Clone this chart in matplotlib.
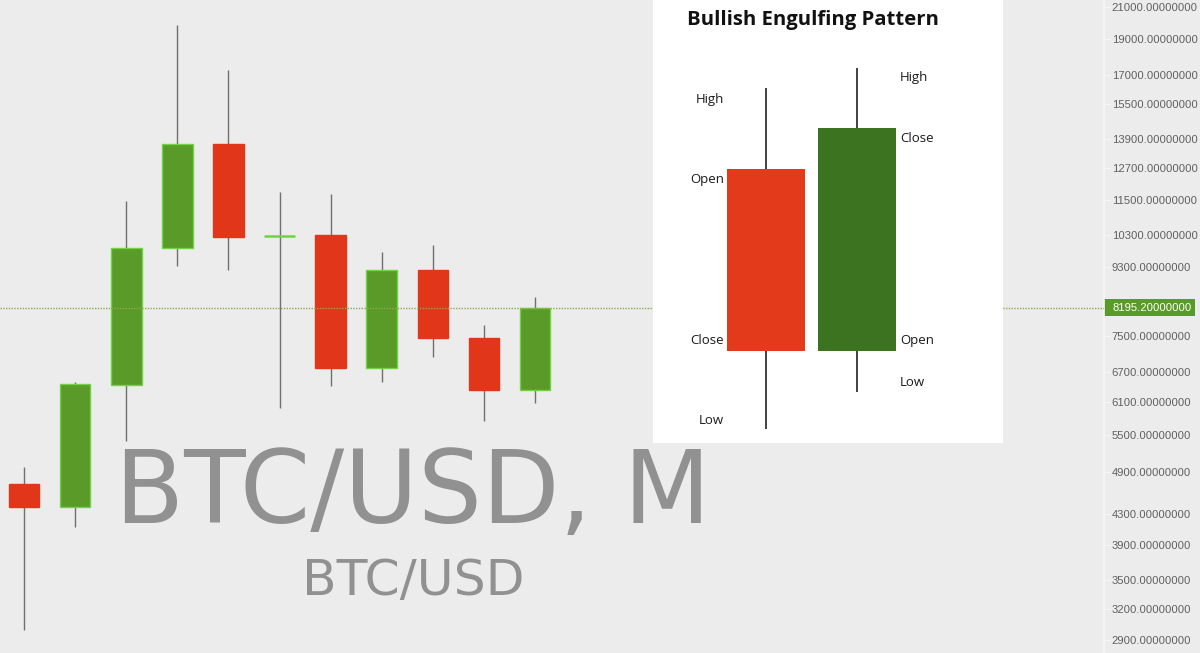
import matplotlib
matplotlib.use('Agg')
import matplotlib.pyplot as plt

# monthly BTC/USD candles
highs = [4990, 6505, 11450, 19850, 17220, 11780, 11705, 9765, 9980, 7775, 8485]
opens = [4730, 4400, 6445, 9890, 13700, 10270, 10300, 6800, 9230, 7465, 6345]
closes = [4400, 6455, 9890, 13700, 10235, 10270, 6800, 9230, 7465, 6345, 8195.2]
lows = [2990, 4135, 5410, 9350, 9230, 6000, 6425, 6505, 7035, 5760, 6090]

last_price = 8195.2
price_ticks = [21000, 19000, 17000, 15500, 13900, 12700, 11500, 10300, 9300,
               7500, 6700, 6100, 5500, 4900, 4300, 3900, 3500, 3200, 2900]

# the pasted "engulfing" sketch, heights in arbitrary units
sketch_names = ['bear', 'bull']
sketch_high = [355, 375]
sketch_open = [274, 92]
sketch_close = [92, 315]
sketch_low = [14, 51]
sketch_colors = ['#e23a1a', '#3b7320']

BG = '#ececec'
UP = '#5a9a28'
UP_EDGE = '#70d442'
DOWN = '#e2361a'
WICK = '#707070'
W, H = 1200, 653

plt.rcParams['font.family'] = ['Liberation Sans', 'DejaVu Sans']

fig = plt.figure(figsize=(12, 6.53), dpi=100, facecolor=BG)
ax = fig.add_axes([0, 0, 1104 / W, 1], facecolor=BG)
ax.set_yscale('log')
ax.set_ylim(2786, 21464)
ax.set_xlim(-0.47, 21.13)

for i in range(len(opens)):
    ax.vlines(i, lows[i], highs[i], color=WICK, lw=1, zorder=2)
    bottom = min(opens[i], closes[i])
    top = max(opens[i], closes[i])
    if closes[i] == opens[i]:
        continue
    if closes[i] > opens[i]:
        ax.bar(i, top - bottom, bottom=bottom, width=0.6, color=UP,
               edgecolor=UP_EDGE, lw=1, zorder=3)
    else:
        ax.bar(i, top - bottom, bottom=bottom, width=0.6, color=DOWN,
               edgecolor=DOWN, lw=1, zorder=3)

# doji candle has no body, only a bright line
for i in range(len(opens)):
    if abs(opens[i] - closes[i]) < 50:
        ax.hlines(opens[i], i - 0.31, i + 0.31, color=UP_EDGE, lw=1.8, zorder=3)

ax.axhline(last_price, color='#8fa84f', lw=1, ls=(0, (1, 1)), zorder=4)

# price scale on the right
ax.yaxis.tick_right()
ax.set_yticks(price_ticks)
ax.set_yticklabels(['%.8f' % p for p in price_ticks])
ax.minorticks_off()
ax.tick_params(axis='y', length=4, width=0.8, color='#f8f8f8', pad=1.5,
               labelsize=8.1, labelcolor='#606060')
ax.set_xticks([])
for name in ['top', 'left', 'bottom']:
    ax.spines[name].set_visible(False)
ax.spines['right'].set_color('#f8f8f8')
ax.spines['right'].set_linewidth(1.2)

# green tag with the last price
fig.add_artist(plt.Rectangle((1104 / W, 1 - 316 / H), 91 / W, 17 / H,
                             transform=fig.transFigure, fc=UP, ec='none', zorder=6))
ax.annotate('%.8f' % last_price, xy=(1, last_price),
            xycoords=('axes fraction', 'data'), xytext=(5.8, 0),
            textcoords='offset points', color='white', fontsize=8.1,
            va='center', ha='left', annotation_clip=False, zorder=7)
ax.set_zorder(7)
ax.patch.set_visible(False)
fig.patch.set_facecolor(BG)

# watermark
fig.text(412.5 / W, 1 - 523 / H, 'BTC/USD, M', family='DejaVu Sans', fontsize=72.5,
         color='#919191', ha='center', va='baseline', zorder=1)
fig.text(413.5 / W, 1 - 595 / H, 'BTC/USD', family='DejaVu Sans', fontsize=36.3,
         color='#919191', ha='center', va='baseline', zorder=1)

# white panel with the sketch
inset = fig.add_axes([653 / W, 1 - 443 / H, 350 / W, 443 / H], facecolor='white')
inset.set_zorder(8)
inset.set_xlim(-1.24, 2.604)
inset.set_ylim(0, 443)
inset.axis('off')
inset.add_patch(plt.Rectangle((0, 0), 1, 1, transform=inset.transAxes,
                              fc='white', ec='none', zorder=0))
for i, name in enumerate(sketch_names):
    inset.vlines(i, sketch_low[i], sketch_high[i], color='#222222', lw=1.2, zorder=1)
    low_side = min(sketch_open[i], sketch_close[i])
    body = abs(sketch_open[i] - sketch_close[i])
    inset.bar(i, body, bottom=low_side, width=0.86, color=sketch_colors[i], zorder=2)

inset.text(0.457, 1 - 20 / 443, 'Bullish Engulfing Pattern', transform=inset.transAxes,
           family='Open Sans', weight='bold', fontsize=14.6, color='#111111',
           ha='center', va='center')

left_labels = [('High', 99), ('Open', 180), ('Close', 341), ('Low', 420)]
right_labels = [('High', 78), ('Close', 139), ('Open', 341), ('Low', 382)]
for text, y in left_labels:
    inset.text(71 / 350, 1 - y / 443, text, transform=inset.transAxes, family='Open Sans',
               fontsize=9.5, color='#1a1a1a', ha='right', va='center')
for text, y in right_labels:
    inset.text(247 / 350, 1 - y / 443, text, transform=inset.transAxes, family='Open Sans',
               fontsize=9.5, color='#1a1a1a', ha='left', va='center')

fig.savefig('out.png', dpi=100, facecolor=BG)
